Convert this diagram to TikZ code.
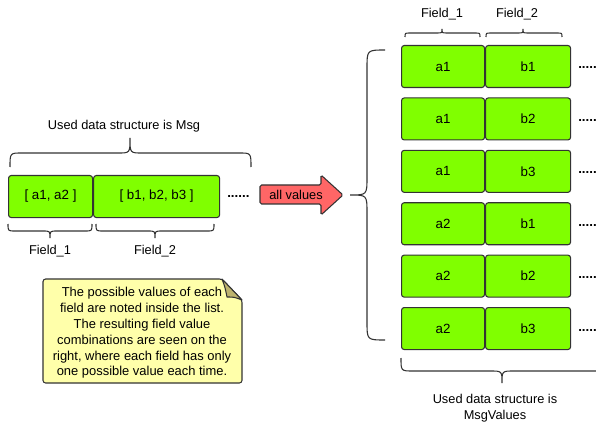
\documentclass[tikz,border=0pt]{standalone}
\usepackage{fontspec}
\setmainfont{Liberation Sans}
\definecolor{fieldgreen}{HTML}{80FF00}
\definecolor{arrowred}{HTML}{FF6666}
\definecolor{notefill}{HTML}{FFFFAA}
\definecolor{notefold}{HTML}{BDB36E}
\definecolor{edge}{HTML}{333333}
% horizontal curly brace: x1, x2, y of ends, y of bar, y of tip, x of tip, radius
\newcommand{\hcurly}[7]{%
  \draw[bracesty] (#1,#3) .. controls (#1,#4) .. ({#1+#7},#4) -- ({#6-#7},#4)
    .. controls (#6,#4) .. (#6,#5) .. controls (#6,#4) .. ({#6+#7},#4)
    -- ({#2-#7},#4) .. controls (#2,#4) .. (#2,#3);}
\begin{document}
\begin{tikzpicture}[x=0.75pt,y=-0.75pt,
  txt/.style={font=\fontsize{9.6}{11.5}\selectfont, inner sep=0pt},
  bracesty/.style={draw=edge, line width=0.8pt},
  cell/.style={draw=edge, line width=0.8pt, fill=fieldgreen, rounded corners=2pt,
    minimum height=31.5pt, inner sep=0pt, font=\fontsize{10}{12}\selectfont, anchor=north west},
  dotsty/.style={font=\fontsize{10}{12}\selectfont\bfseries, inner sep=0pt}]
\useasboundingbox (0,0) rectangle (596,424);

% ---- left: the Msg structure ----
\node[cell, minimum width=63pt] (f1) at (8,175) {[ a1, a2 ]};
\node[cell, minimum width=94.5pt] (f2) at (f1.north east) {[ b1, b2, b3 ]};
\node[dotsty, anchor=base west] (moreL) at (227,198) {......};

\hcurly{10}{251}{167}{153}{138}{130}{12}
\node[txt] (msgname) at (124,126) {Used data structure is Msg};

\hcurly{8}{92}{224}{231}{238}{50}{7}
\hcurly{96}{214}{224}{231}{238}{155}{7}
\node[txt] (lab1) at (50,251) {Field\_1};
\node[txt] (lab2) at (155,251) {Field\_2};

% ---- arrow ----
\draw[draw=edge, line width=0.8pt, fill=arrowred, rounded corners=1.2pt]
  (260,185) -- (321,185) -- (321,175) -- (343,195) -- (321,215) -- (321,204) -- (260,204) -- cycle;
\node[txt] (allv) at (296,194.5) {all values};

% ---- note ----
\draw[draw=edge, line width=0.8pt, fill=notefill, rounded corners=2pt]
  (43,279) -- (222,279) -- (242,300) -- (242,383) -- (43,383) -- cycle;
\draw[draw=edge, line width=0.8pt, fill=notefold, line join=round]
  (222,279) .. controls (225,287) .. (227,297) .. controls (234,297) .. (242,300) -- cycle;
\node[txt, align=center, font=\fontsize{9.7}{11.85}\selectfont] (note) at (142,333)
  {The possible values of each\\field are noted inside the list.\\The resulting field value\\combinations are seen on the\\right, where each field has only\\one possible value each time.};

% ---- right: the MsgValues structure ----
\foreach \a/\b [count=\i] in {a1/b1,a1/b2,a1/b3,a2/b1,a2/b2,a2/b3} {
  \pgfmathsetmacro\ytop{45+(\i-1)*52.4}
  \node[cell, minimum width=62.25pt] (r\i a) at (401,\ytop) {\a};
  \node[cell, minimum width=63.75pt] (r\i b) at (r\i a.north east) {\b};
  \node[dotsty, anchor=base west] (more\i) at (578,{\ytop+24}) {.....};
}

\hcurly{405}{480}{37}{33}{29}{442}{5}
\hcurly{486}{562}{37}{33}{29}{523}{5}
\node[txt] (rlab1) at (442,14) {Field\_1};
\node[txt] (rlab2) at (517,14) {Field\_2};

\draw[bracesty] (385,50) .. controls (367,50) .. (367,68) -- (367,177)
  .. controls (367,195) .. (350,195) .. controls (367,195) .. (367,213)
  -- (367,322) .. controls (367,340) .. (385,340);

\hcurly{401}{604}{358}{371}{383}{502}{12}
\node[txt, align=center, font=\fontsize{9.6}{12}\selectfont] (valname) at (495,408)
  {Used data structure is\\MsgValues};
\end{tikzpicture}
\end{document}
